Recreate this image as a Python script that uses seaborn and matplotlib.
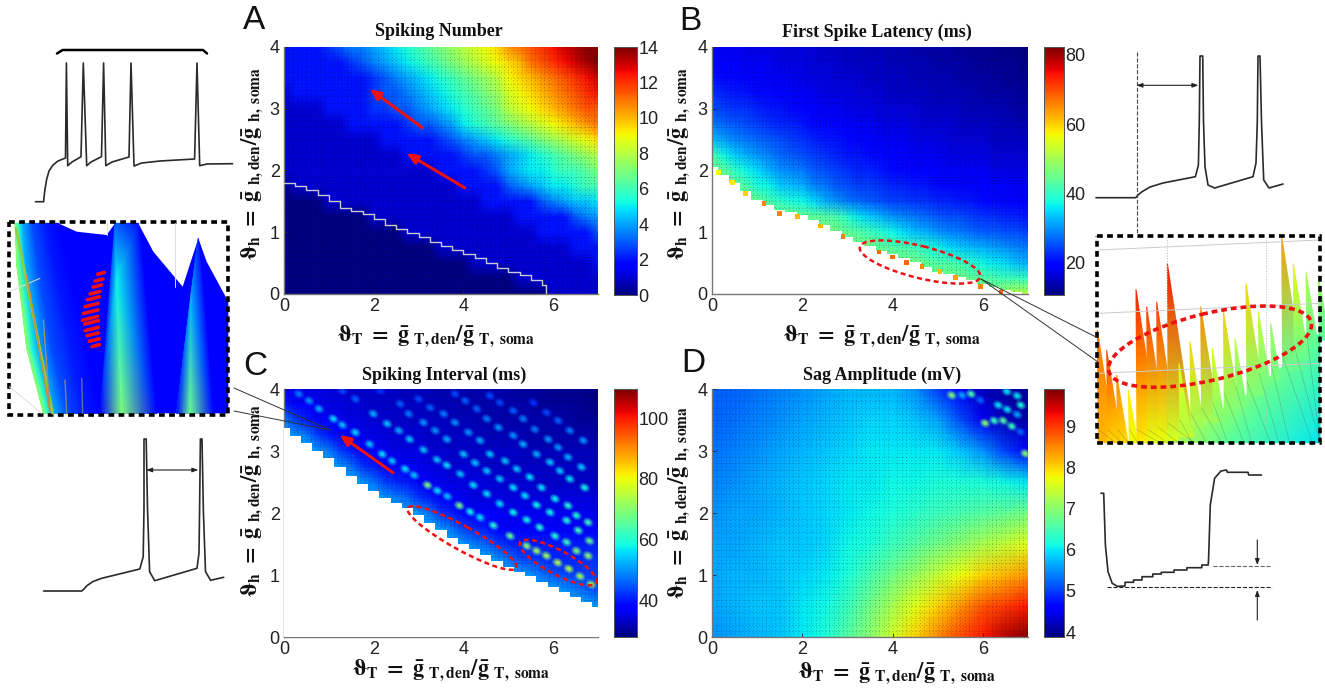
import numpy as np
import seaborn as sns
import matplotlib.pyplot as plt
from matplotlib.patches import Ellipse, Rectangle
from matplotlib.path import Path
from matplotlib.transforms import Affine2D

sns.set_style('white')
plt.rcParams['font.family'] = ['Liberation Sans', 'DejaVu Sans']
plt.rcParams['mathtext.fontset'] = 'stix'

W, H = 1325, 690
JET = plt.get_cmap('jet')
SPOT = Path.unit_circle().transformed(Affine2D().scale(1, .78).rotate_deg(-30))

# cell values, top row is y = 4, x runs 0..7
spiking_number = [
    [2,2,2,2,2.5,3,3.5,3.5,4,4.5,5,5.5,6,6.5,7,7.5,8,8.5,9,9.5,10.5,11,11.5,12,12.5,13,13.5,14,14],
    [2]*6 + [2.5,3,3.5,4,4.5,5,5.5,6,6.5,7,7.5,8,8.5,9,9.5,10,11,11.5,12,12.5,13,13.5,14],
    [2]*8 + [2.5,3,3.5,4,4.5,5,5.5,6,6.5,7,7.5,8,9,9.5,10,10.5,11,11.5,12,12.5,13],
    [1] + [2]*7 + [2.5,3,3,3.5,4,4.5,5,5.5,6,6.5,7,7.5,8.5,9,9.5,10,10.5,11,11.5,12,12.5],
    [1]*4 + [2]*4 + [2.5,2.5,3,3,3.5,4,4.5,5,5.5,6,6.5,7,8,8.5,9,9.5,10,10.5,11,11.5,11.5],
    [1]*6 + [2]*5 + [2.5,3,3,3.5,4,5,5.5,6,6.5,7,7.5,8,8.5,9,9.5,10,10.5,11],
    [1]*9 + [2]*5 + [2.5,3,3.5,4,4.5,5,5.5,6,6.5,7,7.5,8,8.5,9,9.5],
    [1]*11 + [2]*5 + [2.5,3,3,3.5,4,4.5,5,5.5,6,6.5,7,7.5,8],
    [1]*14 + [2]*4 + [2.5,3,4,4.5,5,5,5.5,6,6,6.5,7],
    [0] + [1]*15 + [2]*4 + [3,3.5,4,4.5,5,5,5.5,6,6],
    [0]*4 + [1]*14 + [2]*5 + [3,3.5,4,4.5,4.5,5],
    [0]*8 + [1]*13 + [2]*5 + [3,3.5,4],
    [0]*11 + [1]*12 + [2]*5 + [3],
    [0]*14 + [1]*12 + [2]*3,
    [0]*17 + [1]*11 + [2],
    [0]*21 + [1]*8,
    [0]*24 + [1]*5,
]
first_latency = [
    [18,18,18,17,17,17,17,16,16,16,15,15,15,15,14,14,14,14,13,13,13,13,12,12,12,12,11,11,11],
    [19,19,19,18,18,18,17,17,17,16,16,16,15,15,15,15,14,14,14,14,13,13,13,13,12,12,12,12,11],
    [21,20,20,19,19,18,18,18,17,17,17,16,16,16,15,15,15,15,14,14,14,14,13,13,13,13,12,12,12],
    [23,22,21,21,20,20,19,19,18,18,17,17,17,16,16,16,15,15,15,15,14,14,14,14,13,13,13,13,12],
    [25,24,23,23,22,21,21,20,19,19,18,18,17,17,17,16,16,16,16,15,15,15,15,14,14,14,14,13,13],
    [28,27,26,25,24,23,22,22,21,20,20,19,19,18,18,17,17,17,16,16,16,16,15,15,15,15,14,14,14],
    [33,31,29,28,27,26,25,24,23,22,21,21,20,19,19,18,18,18,17,17,17,16,16,16,16,15,15,15,15],
    [42,37,34,32,30,29,27,26,25,24,23,22,21,21,20,20,19,19,18,18,18,17,17,17,17,16,16,16,16],
    [46,44,40,37,35,32,30,29,28,26,25,24,23,22,22,21,20,20,19,19,19,18,18,18,18,17,17,17,17],
    [46,46,45,42,38,37,34,33,32,29,28,26,25,24,24,23,22,22,21,21,20,20,20,19,19,19,19,18,18],
    [46,46,46,46,45,42,40,38,37,35,32,30,28,27,26,25,24,24,23,23,22,22,21,21,20,20,20,19,19],
    [46]*8 + [45,44,43,42,39,36,34,32,30,29,28,27,26,25,25,24,23,23,22,22,21],
    [46]*12 + [44,43,41,39,37,35,33,32,30,29,28,27,26,26,25,25,24],
    [46]*15 + [44,43,42,41,39,37,35,34,33,32,31,30,29,28],
    [46]*19 + [44,43,42,41,39,37,36,35,33,32],
    [46]*23 + [44,43,42,41,41,40],
    [46]*26 + [50,52,52],
]
spiking_interval = [
    [37,36,35,35,35,34,33,33,33,33,33,32,32,32,31,31,31,31,31,31,31,30,30,30,29,29,29,29,28],
    [40,38,37,36,35,35,34,34,33,33,33,33,33,32,32,32,31,31,31,31,31,31,31,30,30,30,30,29,29],
    [48,43,40,38,37,36,35,35,34,34,33,33,33,33,33,32,32,32,31,31,31,31,31,31,31,31,30,30,30],
    [52,50,48,43,40,38,37,36,35,35,34,34,34,33,33,33,33,33,32,32,32,32,31,31,31,31,31,31,31],
    [52,52,52,50,48,43,40,38,37,36,35,35,35,34,34,33,33,33,33,33,33,33,32,32,32,32,32,32,32],
    [52]*5 + [50,47,42,40,38,37,37,36,35,35,34,34,34,33,33,33,33,33,33,33,33,33,33,32],
    [52]*7 + [50,47,43,41,40,37,37,36,35,35,35,35,34,34,34,34,33,33,33,33,33,33],
    [52]*9 + [50,48,46,42,40,37,37,36,35,35,35,35,35,35,35,35,35,35,35,35],
    [52]*12 + [50,47,42,40,38,37,37,37,36,36,36,36,36,36,36,36,36],
    [52]*14 + [50,47,43,41,40,38,37,37,37,37,37,37,37,37,37],
    [52]*16 + [50,48,46,43,41,40,40,40,40,40,40,40,40],
    [52]*19 + [50,47,44,43,42,41,41,41,42,42],
    [52]*22 + [50,47,45,44,43,43,43],
    [52]*25 + [50,48,46,44],
    [52]*28 + [50],
    [52]*29,
    [52]*29,
]
# top row is y = 4, steps of 0.5
sag_amplitude = [
    [5.2,5.2,5.3,5.4,5.5,5.6,5.7,5.7,5.7,5.5,5.0,4.6,4.2,4.1,4.0],
    [5.2,5.3,5.4,5.5,5.6,5.7,5.8,5.9,5.9,5.8,5.6,5.1,4.5,4.2,4.1],
    [5.3,5.4,5.5,5.6,5.7,5.8,5.9,6.0,6.0,6.0,6.0,5.8,5.5,5.0,4.6],
    [5.4,5.5,5.6,5.7,5.8,5.9,6.0,6.0,6.1,6.1,6.2,6.2,6.2,6.1,6.0],
    [5.5,5.6,5.6,5.7,5.8,5.9,6.0,6.1,6.2,6.3,6.4,6.5,6.6,6.7,6.8],
    [5.6,5.6,5.7,5.8,5.8,5.9,6.1,6.2,6.4,6.6,6.8,7.0,7.2,7.4,7.6],
    [5.6,5.7,5.7,5.8,5.9,6.0,6.2,6.5,6.8,7.1,7.4,7.7,8.0,8.2,8.4],
    [5.6,5.7,5.8,5.8,6.0,6.1,6.4,6.8,7.2,7.6,8.0,8.4,8.8,9.0,9.2],
    [5.5,5.6,5.7,5.8,6.0,6.2,6.6,7.0,7.5,8.0,8.5,8.9,9.2,9.6,9.9],
]

# no-spike boundaries, x = 0, 0.25 .. 7
bound_x = [0,.25,.5,.75,1,1.25,1.5,1.75,2,2.25,2.5,2.75,3,3.25,3.5,3.75,4,4.25,4.5,4.75,5,5.25,5.5,5.75,6,6.25,6.5,6.75,7]
latency_bound = [2.05,1.92,1.80,1.66,1.52,1.44,1.36,1.32,1.28,1.2,1.12,1.02,.93,.85,.77,.7,.64,.58,.52,.44,.36,.32,.28,.22,.17,.12,.07,.03,0]
interval_bound = [3.37,3.25,3.13,3.0,2.88,2.75,2.6,2.47,2.35,2.25,2.16,2.08,1.96,1.84,1.72,1.6,1.5,1.42,1.33,1.23,1.13,1.05,.98,.88,.8,.72,.64,.56,.49]

# white stair line in panel A
stair_x = [0,.25,.5,.75,1,1.25,1.5,1.75,2,2.25,2.5,2.75,3,3.25,3.5,3.75,4,4.25,4.5,4.75,5,5.25,5.5,5.75,5.85]
stair_y = [1.8,1.75,1.68,1.6,1.5,1.4,1.35,1.3,1.22,1.12,1.05,.98,.92,.85,.78,.72,.65,.58,.5,.42,.36,.3,.22,.15,0]

# sparse high cells on the boundary of panel B
edge_x = [.15,.45,.75,1.15,1.5,1.9,2.4,2.9,3.7,4.0,4.3,4.65,5.05,5.4,5.95,6.4]
edge_y = [1.97,1.8,1.63,1.47,1.3,1.25,1.1,.93,.68,.6,.51,.44,.36,.27,.12,.03]
edge_v = [56,58,60,66,66,62,62,66,68,68,68,66,62,64,66,68]

# spike-number transition spots in panel C, one line per stripe
spot_x = [.33,.56,.78,1.10,1.30,1.59,1.91,2.19,2.41,2.70,2.90,3.20,3.42,3.64,3.91,4.15,4.37,4.67,5.04,5.41,5.63,5.85,6.1,6.35,6.6,6.85,
          1.30,1.59,1.99,2.30,2.56,2.80,3.11,3.41,3.63,3.93,4.22,4.52,4.81,5.11,5.41,5.70,6.04,6.30,6.52,6.78,
          2.15,2.59,2.78,3.11,3.37,3.63,4.00,4.26,4.52,4.81,5.11,5.37,5.63,5.93,6.30,6.56,6.81,
          3.0,3.26,3.56,3.81,4.11,4.37,4.59,4.93,5.19,5.48,5.74,6.04,6.33,6.52,6.78,
          3.81,4.04,4.30,4.52,4.78,5.11,5.33,5.63,5.93,6.15,6.37,6.70,
          4.59,4.81,5.11,5.33,5.59,5.89,6.11,6.33,6.63,
          5.56,5.85,6.11,6.37,6.67]
spot_y = [3.92,3.81,3.68,3.52,3.42,3.30,3.11,2.95,2.84,2.71,2.61,2.45,2.36,2.27,2.12,2.02,1.93,1.80,1.63,1.47,1.39,1.31,1.2,1.1,.98,.85,
          3.97,3.84,3.60,3.44,3.33,3.19,3.02,2.86,2.77,2.63,2.45,2.31,2.15,2.01,1.89,1.77,1.63,1.53,1.39,1.31,
          3.97,3.76,3.60,3.46,3.33,3.19,2.95,2.81,2.68,2.55,2.41,2.28,2.13,2.01,1.88,1.72,1.55,
          3.84,3.70,3.60,3.46,3.30,3.17,2.95,2.84,2.71,2.58,2.41,2.23,2.12,1.96,1.85,
          3.92,3.81,3.68,3.52,3.38,3.25,3.11,2.95,2.82,2.68,2.55,2.41,
          3.89,3.78,3.65,3.52,3.35,3.19,3.06,2.90,2.74,
          3.78,3.62,3.49,3.33,3.17]
spot_v = [48,50,52,56,54,55,54,56,54,56,54,68,56,54,68,58,56,60,66,70,72,72,74,74,72,72,
          44,46,52,54,52,54,54,54,56,54,56,56,56,58,58,60,60,62,68,70,
          42,46,48,50,50,52,54,54,54,54,56,56,58,58,60,62,66,
          44,46,48,50,50,52,54,54,54,56,56,58,60,60,62,
          44,46,46,48,50,50,52,52,54,54,56,58,
          44,44,46,48,48,50,50,52,54,
          42,44,46,48,50]

# same kind of spots in panel D
sag_spot_x = [5.31,5.54,5.74,5.94,6.34,6.54,6.76,6.84,6.53,6.05,6.25,6.45,6.64,6.76,6.83,6.94]
sag_spot_y = [3.9,3.9,3.92,3.82,3.74,3.67,3.89,3.74,3.96,3.45,3.49,3.49,3.4,3.59,3.31,2.96]
sag_spot_v = [6.9,5.6,6.5,5.2,6.0,6.0,6.0,6.2,6.0,7.0,6.4,6.6,6.4,5.6,5.2,7.0]

# voltage traces, read in image pixels
trace_a_x = [35.5,43.6,44.6,46.5,49,53,58,65.5,66.4,67.7,72,81,83.3,86.7,91,101.5,103.6,105.8,112,129,131,134,141.7,160,194.6,197,199.7,207,232.6]
trace_a_y = [201.7,201.7,192,180,171,165,161,158,63,165.7,162,156.7,63,165.7,162,156.7,63,165.7,162,157,63,166,163,161,159,63,165.7,164,163.7]
brace_x = [57,62.6,203,207]
brace_y = [53.5,50,50,53.5]
trace_b_x = [1096,1135.7,1138,1142,1150,1163,1195.4,1198.4,1199.3,1200,1202.7,1203.5,1205,1208,1214.6,1253,1256,1257.3,1258,1260,1261.5,1263.7,1269,1283]
trace_b_y = [197.7,197.7,195,191.7,187,183,176.7,165,121.7,56,56,121.7,166.7,185,188,176.7,163,121.7,56,56,121.7,180,188,184]
trace_c_x = [43.6,81.8,84,86.9,93,101.7,139.8,143.2,144,144,146.2,147.5,149.6,154.7,197,199,199.6,200.4,202,203.4,205.5,210.6,223.7]
trace_c_y = [591,591,589,585.7,581.5,578.3,569,556.7,508,439,439,508,571.7,580.7,568.3,553,508.3,439,439,511.7,571.7,580.3,577.3]
trace_d_x = [1101,1103.7,1105.4,1108,1112.2,1117.3,1125,1125,1133.5,1133.5,1142,1142,1152.8,1152.8,1161.3,1161.3,1174,1174,1186.9,1186.9,1201.8,1201.8,1208.2,1208.6,1210.3,1214.6,1221,1226.5,1227.4,1248,1248.7,1261.5]
trace_d_y = [493.3,493.3,545,571.7,583.3,586.3,586,582.3,582.3,580,580,576.7,576.7,574,574,572.3,572.3,570,570,567.7,567.7,565,565,558.3,505,478.3,471,470,472.3,472.3,475,475]

# zoomed surface, left inset: curved fan, then two peaks
body_x = [45,175,230,320,345,415,460,548,595,620,685,685,130,80,50]
body_y = [25,25,50,60,25,25,110,215,70,140,260,595,595,400,150]
fan_x = [[45,54,68,97,136,175],[50,61,77,112,158,205],[80,93,113,154,213,265],[130,142,161,200,252,305]]
fan_y = [[25]*6,[150]*6,[400]*6,[595]*6]
fan_c = [[.52,.42,.3,.2,.15,.11]]*4
peak1_x = [300,345,415,470,350,365]
peak1_y = [595,25,25,595,190,595]
peak1_c = [.12,.22,.14,.12,.36,.5]
peak2_x = [530,595,640,572,570]
peak2_y = [595,70,595,250,595]
peak2_c = [.13,.15,.12,.3,.48]
dash_x = [303,297,292,285,280,275,272,270,275,275,278,283,287]
dash_y = [175,195,213,233,250,270,290,310,322,342,358,375,392]
dash_half = [10,12,13,15,18,20,22,23,21,20,17,15,11]

# right inset spikes
tip_x = [22,50,80,115,138,170,200,232,267,300,332,367,400,435,468,505,542,575,610,648,685]
tip_y = [300,360,435,480,178,230,215,100,400,335,230,355,240,325,160,245,280,20,100,125,135]
tip_v = [68,71,66,58,74,72,72,75,55,60,66,55,60,53,60,54,50,64,57,52,50]
foot_y = [638,638,638,638,638,638,630,620,610,590,575,560,530,510,495,470,450,420,390,360,330]
foot_v = [62,60,60,57,58,56,56,54,52,50,50,48,48,47,47,46,46,45,45,44,44]
sheet_x = [100,300,480,590,690,690,400]
sheet_y = [638,590,490,400,310,638,638]
sheet_v = [58,50,47,45,44,36,44]

fig = plt.figure(figsize=(W/100, H/100), dpi=100)

def box(l, t, r, b):
    return fig.add_axes([l/W, 1-b/H, (r-l)/W, (b-t)/H])

def heat_panel(grid, frame, cframe, vmin, vmax, cticks):
    ax = box(*frame)
    cax = box(*cframe)
    data = np.array(grid, dtype=float)
    sns.heatmap(data, cmap=JET, vmin=vmin, vmax=vmax, ax=ax, cbar_ax=cax,
                xticklabels=False, yticklabels=False, shading='gouraud',
                cbar_kws={'ticks': cticks})
    ax.set_xlim(0, data.shape[1]-1)
    ax.set_ylim(data.shape[0]-1, 0)
    cax.tick_params(right=True, direction='in', length=3, width=.6, pad=1, labelsize=13, colors='#222222')
    for s in cax.spines.values():
        s.set_visible(True)
        s.set_linewidth(.6)
        s.set_color('#555555')
    ov = box(*frame)
    ov.patch.set_alpha(0)
    ov.set_xlim(0, 7)
    ov.set_ylim(0, 4)
    ov.set_xticks([0, 2, 4, 6])
    ov.set_yticks([0, 1, 2, 3, 4])
    ov.xaxis.set_minor_locator(plt.MultipleLocator(.1))
    ov.yaxis.set_minor_locator(plt.MultipleLocator(.1))
    ov.grid(which='minor', color='k', alpha=.35, lw=.6, linestyle=(0, (1, 3)))
    ov.tick_params(which='minor', length=0)
    ov.tick_params(which='major', direction='in', length=3, width=.6, pad=3, labelsize=13,
                   left=True, bottom=True, colors='#222222')
    for side, s in ov.spines.items():
        s.set_visible(side in ('left', 'bottom'))
        s.set_linewidth(1)
        s.set_color('#777777')
    return ov

def red_arrow(ov, tail, head):
    ov.annotate('', xy=head, xytext=tail, zorder=6,
                arrowprops=dict(arrowstyle='-|>,head_width=.28,head_length=.65', color='#ee1111', lw=2.2,
                                shrinkA=0, shrinkB=0))

def spots(ov, x, y, v, vmin, vmax):
    for size, al, z in [(70, .18, 3), (38, .4, 3.1), (12, .75, 3.2)]:
        sns.scatterplot(x=x, y=y, hue=v, palette=JET, hue_norm=(vmin, vmax), s=size, alpha=al, marker=SPOT,
                        linewidth=0, legend=False, ax=ov, zorder=z)

# A
ov_a = heat_panel(spiking_number, (284, 47, 598, 294), (614, 47, 637, 295), 0, 14, [0,2,4,6,8,10,12,14])
sns.lineplot(x=stair_x, y=stair_y, drawstyle='steps-post', color='#c8c8d8', lw=1, ax=ov_a, zorder=3, errorbar=None, estimator=None, sort=False)
red_arrow(ov_a, (3.09, 2.69), (1.91, 3.32))
red_arrow(ov_a, (4.03, 1.72), (2.73, 2.28))

# B
ov_b = heat_panel(first_latency, (712, 47, 1028, 294), (1044, 47, 1064, 295), 10.6, 82.3, [20,40,60,80])
ov_b.fill_between(bound_x, 0, latency_bound, step='mid', color='white', lw=0, zorder=2)
sns.scatterplot(x=edge_x, y=edge_y, hue=edge_v, palette=JET, hue_norm=(10.6, 82.3), s=12, marker='s',
                linewidth=0, legend=False, ax=ov_b, zorder=3)

# C
ov_c = heat_panel(spiking_interval, (284, 389, 598, 637), (614, 389, 637, 637), 27.8, 109.6, [40,60,80,100])
ov_c.fill_between(bound_x, 0, interval_bound, step='mid', color='white', lw=0, zorder=2)
spots(ov_c, spot_x, spot_y, spot_v, 27.8, 109.6)
ov_c.fill_between(bound_x, 0, interval_bound, step='mid', color='white', lw=0, zorder=3.5)
red_arrow(ov_c, (2.43, 2.65), (1.24, 3.26))

# D
ov_d = heat_panel(sag_amplitude, (712, 389, 1028, 637), (1044, 389, 1064, 637), 3.88, 9.9, [4,5,6,7,8,9])
spots(ov_d, sag_spot_x, sag_spot_y, sag_spot_v, 3.88, 9.9)

# zoomed surface, left
ins_l = box(0, 215, 240, 420)
ins_l.patch.set_alpha(0)
ins_l.set_xlim(0, 720)
ins_l.set_ylim(615, 0)
ins_l.axis('off')
ins_l.plot([320, 320], [25, 60], color='#dddddd', lw=.7)
ins_l.plot([525, 525], [25, 215], color='#dddddd', lw=.7)
ins_l.plot([28, 120], [230, 190], color='#dddddd', lw=.7)
ins_l.plot([28, 125], [515, 595], color='#dddddd', lw=.7)
ins_l.fill(body_x, body_y, color=JET(.11), lw=0)
ins_l.pcolormesh(np.array(fan_x), np.array(fan_y), np.array(fan_c), shading='gouraud', cmap=JET, vmin=0, vmax=1)
ins_l.tripcolor(peak1_x, peak1_y, [[0,1,4],[1,2,4],[2,3,4],[0,4,5],[4,3,5]], peak1_c, shading='gouraud', cmap=JET, vmin=0, vmax=1)
ins_l.tripcolor(peak2_x, peak2_y, [[0,1,3],[1,2,3],[0,3,4],[3,2,4]], peak2_c, shading='gouraud', cmap=JET, vmin=0, vmax=1)
ins_l.plot([48, 158], [40, 595], color='#90d040', lw=2)
ins_l.plot([80, 150], [180, 590], color='#c89030', lw=1.2)
ins_l.plot([130, 150], [315, 590], color='#a09070', lw=1)
ins_l.plot([195, 200], [495, 595], color='#808090', lw=1)
ins_l.plot([245, 248], [490, 595], color='#6070a0', lw=1)
for cx, cy, half in zip(dash_x, dash_y, dash_half):
    ins_l.plot([cx-half, cx+half], [cy+half*.25, cy-half*.25], color='#f01010', lw=2.6, solid_capstyle='round')
ins_l.add_patch(Rectangle((28, 20), 657, 580, fill=False, ec='k', lw=2.6, linestyle=(0, (1.6, 1.2))))

# zoomed surface, right
ins_r = box(1090, 230, 1325, 450)
ins_r.patch.set_alpha(0)
ins_r.set_xlim(0, 705)
ins_r.set_ylim(660, 0)
ins_r.axis('off')
ins_r.plot([25, 690], [60, 30], color='#cccccc', lw=.7)
ins_r.plot([25, 690], [250, 220], color='#cccccc', lw=.7)
ins_r.plot([25, 690], [430, 400], color='#cccccc', lw=.7)
ins_r.plot([230, 230], [20, 600], color='#bbbbbb', lw=.7, linestyle=':')
ins_r.plot([528, 528], [20, 600], color='#bbbbbb', lw=.7, linestyle=':')
ins_r.tripcolor(sheet_x, sheet_y, [[0,1,6],[1,2,6],[2,3,6],[3,5,6],[3,4,5]], sheet_v,
                shading='gouraud', cmap=JET, vmin=10.6, vmax=82.3)
for tx, ty, tv, fy, fv in zip(tip_x, tip_y, tip_v, foot_y, foot_v):
    rx = tx + .14*(fy-ty) + 6
    ins_r.tripcolor([tx, tx+3, rx], [ty, fy, fy], [[0,1,2]], [tv, fv, fv-1],
                    shading='gouraud', cmap=JET, vmin=10.6, vmax=82.3)
    ins_r.plot([tx+3, min(rx+.14*(638-fy), 690)], [fy-40, 638], color='#506050', alpha=.35, lw=.5)
ins_r.add_patch(Ellipse((360, 350), 625, 200, angle=-13.6, fill=False, ec='#ee1111', lw=2.6, linestyle=(0, (1.6, 1.1)), zorder=5))
ins_r.add_patch(Rectangle((20, 18), 670, 620, fill=False, ec='k', lw=2.6, linestyle=(0, (1.6, 1.2)), zorder=6))

# everything drawn in image pixels
fg = box(0, 0, W, H)
fg.patch.set_alpha(0)
fg.set_xlim(0, W)
fg.set_ylim(H, 0)
fg.axis('off')

for tx, ty in [(trace_a_x, trace_a_y), (trace_b_x, trace_b_y), (trace_c_x, trace_c_y), (trace_d_x, trace_d_y)]:
    sns.lineplot(x=tx, y=ty, color='#2a2a2a', lw=1.2, ax=fg, estimator=None, sort=False, errorbar=None)
sns.lineplot(x=brace_x, y=brace_y, color='k', lw=1.8, ax=fg, estimator=None, sort=False, errorbar=None)

def double_arrow(x0, x1, y):
    fg.annotate('', xy=(x1, y), xytext=(x0, y),
                arrowprops=dict(arrowstyle='<|-|>,head_width=.13,head_length=.35', color='#222222', lw=.8, shrinkA=0, shrinkB=0))

def one_arrow(x, y0, y1):
    fg.annotate('', xy=(x, y1), xytext=(x, y0),
                arrowprops=dict(arrowstyle='-|>,head_width=.13,head_length=.35', color='#222222', lw=.8, shrinkA=0, shrinkB=0))

double_arrow(1136.5, 1198.4, 85.3)
double_arrow(146.2, 198.3, 470)
one_arrow(1257.3, 540, 565)
one_arrow(1257.3, 620, 590)
fg.plot([1136.5, 1136.5], [52, 233], color='#444444', lw=.8, linestyle='--')
fg.plot([1212.5, 1272.2], [565.7, 565.7], color='#666666', lw=.8, linestyle='--')
fg.plot([1107, 1272], [587.3, 587.3], color='#222222', lw=.8, linestyle='--')

# connectors to the insets
fg.plot([981, 1098], [279, 338], color='#333333', lw=.7)
fg.plot([981, 1098], [279, 362], color='#333333', lw=.7)
fg.plot([234, 330], [388, 430], color='#333333', lw=.7)
fg.plot([234, 330], [411, 430], color='#333333', lw=.7)

# red dashed ellipses
for cx, cy, w, h, ang in [(920, 262, 124, 32, 14), (462, 538, 124, 24, 29), (558, 562.5, 86, 24, 28)]:
    fg.add_patch(Ellipse((cx, cy), w, h, angle=ang, fill=False, ec='#ee1111', lw=1.8, linestyle=(0, (2, 1.4))))

# panel letters
for s, x, y in [('A', 243, 29), ('B', 679, 30), ('C', 243, 375), ('D', 681, 372)]:
    fg.text(x, y, s, fontsize=24, family='Liberation Sans', va='baseline', ha='left', color='#111111')

titles = ['Spiking Number', 'First Spike Latency (ms)', 'Spiking Interval (ms)', 'Sag Amplitude (mV)']
title_x = [439, 877, 444, 882]
title_y = [32, 32, 375, 375]
for s, x, y in zip(titles, title_x, title_y):
    fg.text(x, y, s, fontsize=13, family='Liberation Serif', fontweight='bold', ha='center', va='center', color='#111111')

xlab = r'$\mathbf{\vartheta_T\ =\ \bar{g}\ _{T,den}/\bar{g}\ _{T,\ soma}}$'
ylab = r'$\mathbf{\vartheta_h\ =\ \bar{g}\ _{h,den}/\bar{g}\ _{h,\ soma}}$'
for x, y in [(436, 336), (882, 336), (451, 670), (897, 673)]:
    fg.text(x, y, xlab, fontsize=16, ha='center', va='center', color='#111111')
for x, y in [(252, 163), (679, 163), (252, 500), (679, 502)]:
    fg.text(x, y, ylab, fontsize=16, ha='center', va='center', rotation=90, color='#111111')

fig.savefig('out.png', dpi=100)
